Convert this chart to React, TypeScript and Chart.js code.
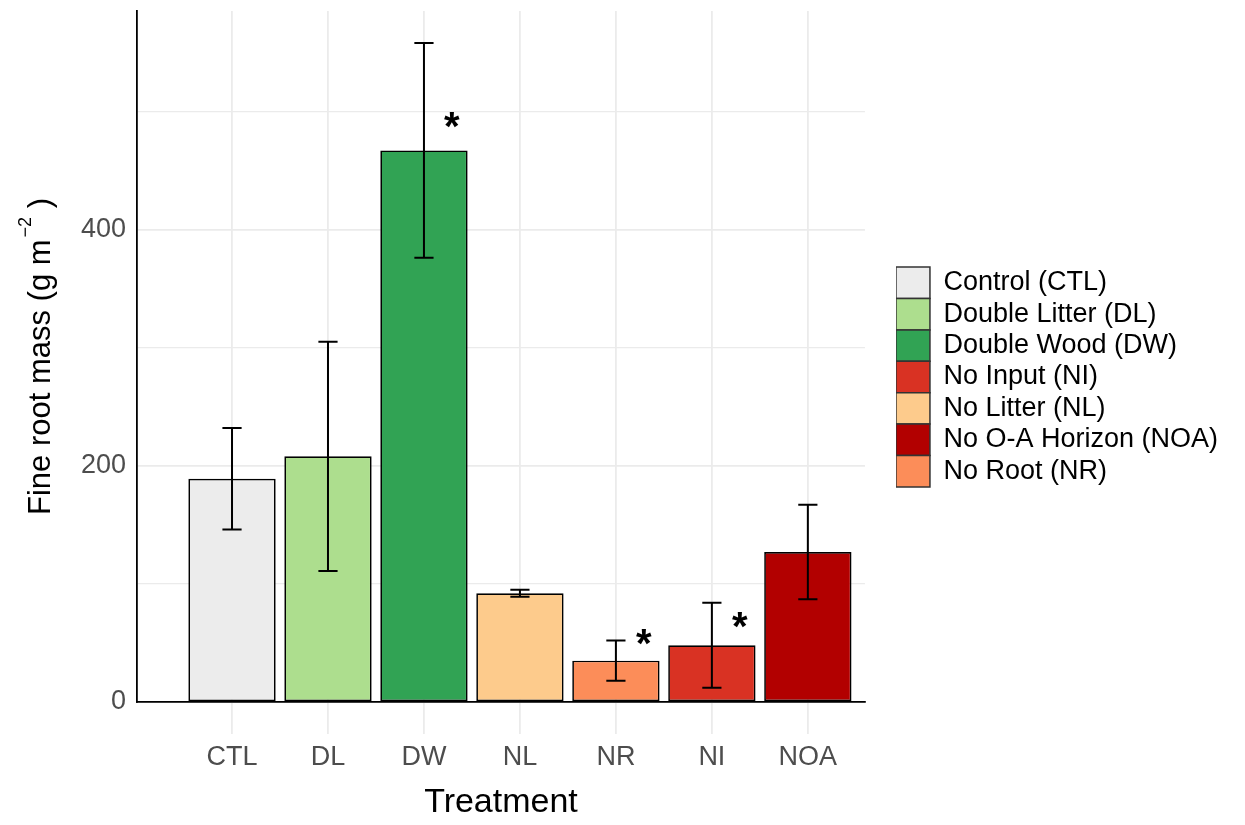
import React, { useEffect, useRef } from 'react';
import { Chart, registerables } from 'chart.js';

Chart.register(...registerables);

const FAMILY = '"Liberation Sans", Arial, sans-serif';

const CATEGORIES = ['CTL', 'DL', 'DW', 'NL', 'NR', 'NI', 'NOA'];
const MEANS = [189, 208, 467, 92, 35, 48, 127];
const LOWER = [146, 111, 376, 89, 18, 12, 87];
const UPPER = [232, 305, 558, 95, 52, 84, 167];
const STAR_Y: (number | null)[] = [null, null, 493, null, 55, 69, null];
const STAR_NUDGE = 0.29;
const COLORS = ['#ECECEC', '#ADDE8E', '#31A354', '#FDCB8C', '#FC8D59', '#D93223', '#B20000'];
const LEGEND_CODES = ['CTL', 'DL', 'DW', 'NI', 'NL', 'NOA', 'NR'];
const LEGEND_NAMES = [
  'Control (CTL)',
  'Double Litter (DL)',
  'Double Wood (DW)',
  'No Input (NI)',
  'No Litter (NL)',
  'No O-A Horizon (NOA)',
  'No Root (NR)',
];
const Y_TICKS = [0, 100, 200, 300, 400, 500];
const Y_MAX = 585;
const Y_TITLE = ['Fine root mass (g m', '\u22122', ' )'];

const errorBarPlugin = {
  id: 'errorBars',
  afterDatasetsDraw(chart: any) {
    const { ctx } = chart;
    const x = chart.scales.x;
    const y = chart.scales.y;
    const capHalf = Math.abs(x.getPixelForValue(0.1) - x.getPixelForValue(0));
    ctx.save();
    ctx.strokeStyle = '#000';
    ctx.lineWidth = 2;
    CATEGORIES.forEach((_, i) => {
      const px = x.getPixelForValue(i);
      const lo = y.getPixelForValue(LOWER[i]);
      const hi = y.getPixelForValue(UPPER[i]);
      ctx.beginPath();
      ctx.moveTo(px, lo);
      ctx.lineTo(px, hi);
      ctx.moveTo(px - capHalf, lo);
      ctx.lineTo(px + capHalf, lo);
      ctx.moveTo(px - capHalf, hi);
      ctx.lineTo(px + capHalf, hi);
      ctx.stroke();
    });
    ctx.font = `bold 40px ${FAMILY}`;
    ctx.fillStyle = '#000';
    ctx.textAlign = 'center';
    ctx.textBaseline = 'alphabetic';
    const m = ctx.measureText('*');
    const off = (m.actualBoundingBoxAscent - m.actualBoundingBoxDescent) / 2;
    STAR_Y.forEach((v, i) => {
      if (v == null) return;
      const px = x.getPixelForValue(i + STAR_NUDGE);
      const py = y.getPixelForValue(v);
      ctx.fillText('*', px, py + off);
    });
    ctx.restore();
  },
};

// y-axis title with a real superscript (Chart.js titles are single-font)
const yTitlePlugin = {
  id: 'yTitleSup',
  afterDraw(chart: any) {
    const { ctx, chartArea } = chart;
    const mainFont = `31px ${FAMILY}`;
    const supFont = `18px ${FAMILY}`;
    ctx.save();
    ctx.fillStyle = '#000';
    ctx.textAlign = 'left';
    ctx.textBaseline = 'alphabetic';
    ctx.font = mainFont;
    const w1 = ctx.measureText(Y_TITLE[0]).width;
    const w3 = ctx.measureText(Y_TITLE[2]).width;
    ctx.font = supFont;
    const w2 = ctx.measureText(Y_TITLE[1]).width;
    const total = w1 + 2 + w2 + w3;
    const cy = (chartArea.top + chartArea.bottom) / 2;
    ctx.translate(50, cy);
    ctx.rotate(-Math.PI / 2);
    let cx = -total / 2;
    ctx.font = mainFont;
    ctx.fillText(Y_TITLE[0], cx, 0);
    cx += w1 + 2;
    ctx.font = supFont;
    ctx.fillText(Y_TITLE[1], cx, -19);
    cx += w2;
    ctx.font = mainFont;
    ctx.fillText(Y_TITLE[2], cx, 0);
    ctx.restore();
  },
};

export default function App() {
  const canvasRef = useRef<HTMLCanvasElement | null>(null);

  useEffect(() => {
    document.body.style.margin = '0';
    const canvas = canvasRef.current;
    if (!canvas) return;
    const chart = new Chart(canvas, {
      type: 'bar',
      data: {
        datasets: [
          {
            data: CATEGORIES.map((_, i) => ({ x: i, y: MEANS[i] })),
            backgroundColor: COLORS,
            borderColor: '#000',
            borderWidth: 1.7,
            borderSkipped: false,
            barPercentage: 0.91,
            categoryPercentage: 1,
          } as any,
        ],
      },
      plugins: [errorBarPlugin, yTitlePlugin],
      options: {
        animation: false,
        responsive: true,
        maintainAspectRatio: false,
        layout: { padding: { top: 11, right: 17, left: 0, bottom: 0 } },
        plugins: {
          tooltip: { enabled: false },
          legend: {
            position: 'right',
            align: 'center',
            fullSize: false,
            maxWidth: 420,
            title: {
              display: true,
              text: '',
              padding: { top: 31, bottom: 0 },
              font: { size: 10, lineHeight: 1 },
            },
            labels: {
              boxWidth: 34,
              boxHeight: 31.4,
              padding: 0,
              color: '#000',
              font: { size: 27, family: FAMILY },
              generateLabels: () =>
                LEGEND_CODES.map((code, i) => ({
                  text: LEGEND_NAMES[i],
                  fillStyle: COLORS[CATEGORIES.indexOf(code)],
                  strokeStyle: '#333',
                  fontColor: '#000',
                  lineWidth: 1.5,
                  hidden: false,
                  datasetIndex: 0,
                })),
            },
          },
        },
        scales: {
          x: {
            type: 'linear',
            min: -0.99,
            max: 6.595,
            offset: false,
            grid: {
              offset: false,
              color: '#EBEBEB',
              lineWidth: 1.8,
              tickLength: 32,
              tickColor: '#EBEBEB',
              tickWidth: 1.8,
            },
            border: { display: true, color: '#000', width: 1.8 },
            afterBuildTicks: (s: any) => {
              s.ticks = CATEGORIES.map((_, i) => ({ value: i }));
            },
            afterFit: (s: any) => {
              s.height = 123;
              s.paddingLeft = 0;
              s.paddingRight = 0;
              s.paddingTop = 0;
              s.paddingBottom = 0;
            },
            ticks: {
              callback: (v: any) => CATEGORIES[v as number] ?? '',
              color: '#4D4D4D',
              font: { size: 27, family: FAMILY },
              padding: 7,
              autoSkip: false,
              maxRotation: 0,
            },
            title: {
              display: true,
              text: 'Treatment',
              color: '#000',
              font: { size: 34, family: FAMILY },
              padding: { top: 0, bottom: 2 },
            },
          } as any,
          y: {
            type: 'linear',
            min: 0,
            max: Y_MAX,
            grid: {
              color: '#EBEBEB',
              lineWidth: (c: any) => (c.tick && c.tick.value % 200 === 0 ? 1.8 : 1.3),
              drawTicks: false,
            },
            border: { display: true, color: '#000', width: 1.8 },
            afterBuildTicks: (s: any) => {
              s.ticks = Y_TICKS.map((v) => ({ value: v }));
            },
            afterFit: (s: any) => {
              s.width = 137;
              s.paddingLeft = 0;
              s.paddingRight = 0;
              s.paddingTop = 0;
              s.paddingBottom = 0;
            },
            ticks: {
              callback: (v: any) => ((v as number) % 200 === 0 ? String(v) : ''),
              color: '#4D4D4D',
              font: { size: 27, family: FAMILY },
              padding: 11,
            },
            title: { display: false },
          } as any,
          gap: {
            type: 'linear',
            position: 'right',
            display: true,
            grid: { display: false, drawTicks: false },
            ticks: { display: false },
            border: { display: false },
            afterFit: (s: any) => {
              s.width = 31;
              s.paddingLeft = 0;
              s.paddingRight = 0;
              s.paddingTop = 0;
              s.paddingBottom = 0;
            },
          } as any,
        },
      },
    });
    return () => chart.destroy();
  }, []);

  return (
    <div style={{ position: 'relative', width: 1245, height: 825 }}>
      <canvas ref={canvasRef} />
    </div>
  );
}
